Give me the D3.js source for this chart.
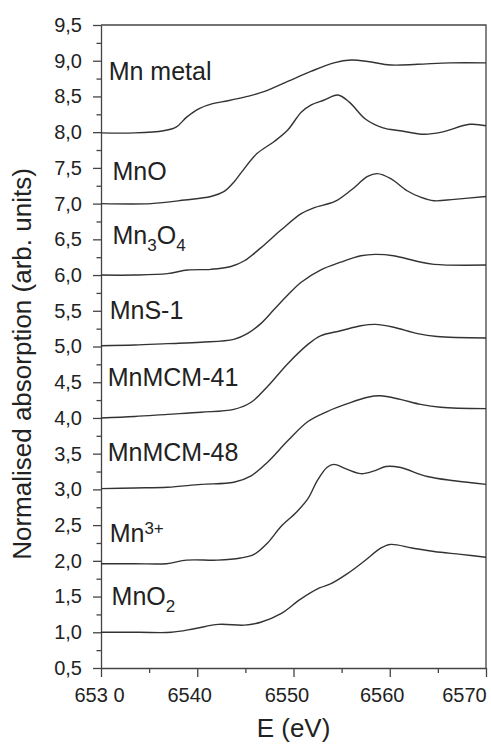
<!DOCTYPE html>
<html>
<head>
<meta charset="utf-8">
<script src="https://cdn.jsdelivr.net/npm/d3@7"></script>
<style>
  body { margin: 0; background: #fff; }
  svg { display: block; font-family: "Liberation Sans", Arial, Helvetica, sans-serif; }
</style>
</head>
<body>
<script>
// XANES spectra, [energy (eV), normalised absorption]
const mnMetal = [[6530,7.99],[6533.5,7.99],[6536.5,8.02],[6537.8,8.07],[6538.9,8.21],[6540.2,8.33],[6541.6,8.40],[6543.2,8.44],[6545.2,8.50],[6547,8.57],[6549.4,8.71],[6551.8,8.85],[6554.2,8.97],[6556,9.01],[6557.7,8.99],[6560.1,8.94],[6562.9,8.95],[6566.3,8.97],[6570,8.97]];
const mnO = [[6530,7.0],[6535.2,7.0],[6538.7,7.05],[6541.4,7.10],[6542.8,7.17],[6543.8,7.30],[6544.6,7.44],[6546.2,7.70],[6548,7.87],[6549.4,8.03],[6550.8,8.28],[6551.8,8.38],[6553.2,8.45],[6554.6,8.52],[6555.8,8.42],[6557.5,8.18],[6559.3,8.06],[6561.1,8.02],[6563.6,7.97],[6565.4,8.0],[6568.3,8.11],[6570,8.09]];
const mn3O4 = [[6530,6.0],[6533.5,6.0],[6536.9,6.02],[6539,6.07],[6541.4,6.08],[6543.5,6.12],[6544.9,6.20],[6546.6,6.38],[6548.7,6.63],[6550.8,6.86],[6552.1,6.94],[6554.3,7.03],[6556,7.19],[6557.7,7.38],[6558.7,7.42],[6560.1,7.35],[6561.8,7.18],[6563.2,7.09],[6564.6,7.04],[6566.7,7.06],[6570,7.10]];
const mnS1 = [[6530,5.01],[6533.5,5.02],[6536.9,5.04],[6540.4,5.06],[6543.8,5.10],[6545.2,5.18],[6546.6,5.32],[6548,5.52],[6549.4,5.72],[6550.8,5.90],[6552.8,6.07],[6554.9,6.18],[6557,6.27],[6558.5,6.29],[6560.4,6.27],[6562.9,6.19],[6564.6,6.15],[6570,6.14]];
const mnMCM41 = [[6530,4.0],[6533.5,4.02],[6536.9,4.05],[6540.4,4.08],[6543.8,4.12],[6545.6,4.22],[6547.3,4.44],[6549.4,4.76],[6551.5,5.03],[6552.8,5.15],[6554.9,5.22],[6557,5.29],[6558.5,5.31],[6560.4,5.27],[6562.9,5.18],[6564.9,5.14],[6570,5.12]];
const mnMCM48 = [[6530,3.01],[6533.5,3.02],[6536.9,3.03],[6540.4,3.07],[6543.8,3.10],[6545.6,3.19],[6547.3,3.38],[6549.4,3.68],[6551.5,3.95],[6553.5,4.09],[6555.6,4.20],[6557.7,4.29],[6559,4.31],[6561.1,4.26],[6563.2,4.19],[6565.3,4.15],[6570,4.13]];
const mn3plus = [[6530,1.96],[6533.5,1.96],[6536.8,1.96],[6538.9,2.01],[6542.1,2.01],[6544.5,2.04],[6545.9,2.09],[6547.3,2.25],[6548.7,2.48],[6550.3,2.68],[6551.5,2.87],[6552.5,3.13],[6553.5,3.31],[6554.2,3.35],[6555.4,3.29],[6557,3.22],[6558.4,3.26],[6559.6,3.32],[6561,3.31],[6563.9,3.18],[6566.7,3.12],[6570,3.07]];
const mnO2 = [[6530,1.0],[6534,1.0],[6537.3,1.0],[6539.7,1.05],[6542.2,1.11],[6544.9,1.10],[6546.6,1.14],[6548.7,1.26],[6550.7,1.46],[6552.7,1.62],[6553.9,1.68],[6555.6,1.82],[6557.3,1.99],[6559.1,2.18],[6560.1,2.23],[6562.3,2.18],[6564.6,2.13],[6567.4,2.09],[6570,2.05]];

const spectra = [mnMetal, mnO, mn3O4, mnS1, mnMCM41, mnMCM48, mn3plus, mnO2];

// label text: [main, script, script kind]
const sampleNames = [["Mn metal"], ["MnO"], ["Mn", "3", "sub", "O", "4"], ["MnS-1"], ["MnMCM-41"], ["MnMCM-48"], ["Mn", "3+", "sup"], ["Mn", "O", "", "2"]];
const labelAt = [[6530.8, 8.73], [6531.2, 7.33], [6531.2, 6.44], [6530.9, 5.385], [6530.7, 4.45], [6530.7, 3.40], [6530.9, 2.27], [6531.1, 1.38]];

const xMajor = [6530, 6540, 6550, 6560, 6570];
const xMinor = [6535, 6545, 6555, 6565];
const xTickText = ["653 0", "6540", "6550", "6560", "6570"];
const yMajor = d3.range(0.5, 9.51, 0.5);
const yMinor = d3.range(0.75, 9.5, 0.5);

const width = 491, height = 751;
const margin = {top: 25, right: 5, bottom: 83, left: 101};

// the printed x labels sit a little left of their ticks
const xTickShift = [-2, -8, -7, -8, -22];

const svg = d3.select("body").append("svg")
    .attr("width", width)
    .attr("height", height);

const x = d3.scaleLinear().domain([6530, 6570]).range([margin.left, width - margin.right]);
const y = d3.scaleLinear().domain([0.5, 9.5]).range([height - margin.bottom, margin.top]);

const axisColor = "#444";
const textColor = "#222";

// frame (top + right)
svg.append("path")
    .attr("d", `M${x(6530)},${y(9.5)}H${x(6570)}V${y(0.5)}`)
    .attr("fill", "none")
    .attr("stroke", axisColor)
    .attr("stroke-width", 1.3);

// x axis
const gx = svg.append("g")
    .attr("transform", `translate(0,${y(0.5)})`)
    .call(d3.axisBottom(x).tickValues(xMajor).tickSize(9).tickSizeOuter(0).tickPadding(11)
        .tickFormat((d, i) => xTickText[i]));
gx.selectAll(".tick text").attr("dx", (d, i) => xTickShift[i]);
svg.append("g")
    .attr("transform", `translate(0,${y(0.5)})`)
    .call(d3.axisBottom(x).tickValues(xMinor).tickSize(5).tickSizeOuter(0).tickFormat(""))
    .call(g => g.select(".domain").remove());

// y axis
const commaFmt = d => d3.format(".1f")(d).replace(".", ",");
const gy = svg.append("g")
    .attr("transform", `translate(${x(6530)},0)`)
    .call(d3.axisLeft(y).tickValues(yMajor).tickSize(8).tickSizeOuter(0).tickPadding(11).tickFormat(commaFmt));
svg.append("g")
    .attr("transform", `translate(${x(6530)},0)`)
    .call(d3.axisLeft(y).tickValues(yMinor).tickSize(4.5).tickSizeOuter(0).tickFormat(""))
    .call(g => g.select(".domain").remove());

svg.selectAll(".domain, .tick line")
    .attr("stroke", axisColor)
    .attr("stroke-width", 1.3);
svg.selectAll(".tick text")
    .attr("fill", textColor)
    .attr("font-size", 20)
    .attr("font-family", "Liberation Sans, Arial, sans-serif");

// axis titles
svg.append("text")
    .attr("x", (x(6530) + x(6570)) / 2)
    .attr("y", 737)
    .attr("text-anchor", "middle")
    .attr("font-size", 26)
    .attr("fill", textColor)
    .text("E (eV)");

svg.append("text")
    .attr("transform", "translate(31,364) rotate(-90)")
    .attr("text-anchor", "middle")
    .attr("font-size", 26)
    .attr("fill", textColor)
    .text("Normalised absorption (arb. units)");

// spectra
const line = d3.line()
    .x(d => x(d[0]))
    .y(d => y(d[1]))
    .curve(d3.curveCatmullRom.alpha(0.5));

svg.append("g")
    .selectAll("path")
    .data(spectra)
    .join("path")
    .attr("d", line)
    .attr("fill", "none")
    .attr("stroke", "#333")
    .attr("stroke-width", 1.4);

// sample labels
const labels = svg.append("g")
    .attr("font-size", 25)
    .attr("fill", textColor);

sampleNames.forEach((parts, i) => {
    const t = labels.append("text")
        .attr("x", x(labelAt[i][0]))
        .attr("y", y(labelAt[i][1]));
    if (parts.length === 1) {
        t.text(parts[0]);
    } else if (parts[2] === "sub") {
        t.append("tspan").text(parts[0]);
        t.append("tspan").attr("font-size", 17).attr("dy", 7).text(parts[1]);
        t.append("tspan").attr("dy", -7).text(parts[3]);
        t.append("tspan").attr("font-size", 17).attr("dy", 7).text(parts[4]);
    } else if (parts[2] === "sup") {
        t.append("tspan").text(parts[0]);
        t.append("tspan").attr("font-size", 17).attr("dy", -8).text(parts[1]);
    } else {
        t.append("tspan").text(parts[0] + parts[1]);
        t.append("tspan").attr("font-size", 17).attr("dy", 7).text(parts[3]);
    }
});
</script>
</body>
</html>
